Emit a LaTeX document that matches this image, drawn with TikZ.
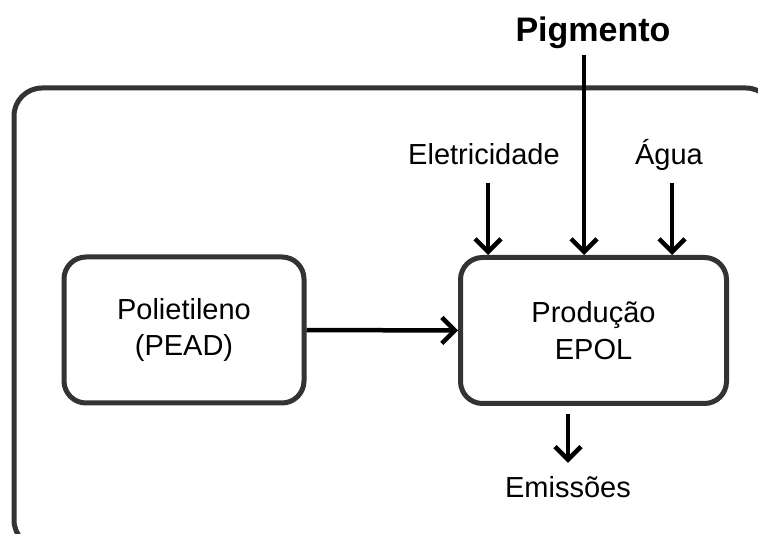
\documentclass[tikz,border=0pt]{standalone}
\usepackage{fontspec}
\setmainfont{Liberation Sans}
\usetikzlibrary{arrows.meta}
\definecolor{boxgray}{HTML}{333333}
\begin{document}
\begin{tikzpicture}
[x=1pt, y=-1pt,
 box/.style={draw=boxgray, line width=5pt, rounded corners=22pt, inner sep=0pt, align=center,
   font=\fontsize{29}{36.5}\selectfont},
 tag/.style={inner sep=0pt, text height=21pt, text depth=0pt, font=\fontsize{29}{36}\selectfont},
 flow/.style={-{Straight Barb[length=13pt,width=26pt]}, line width=4.5pt, black}]
\useasboundingbox (0,0) rectangle (758,534);
\clip (0,0) rectangle (758,534);
\draw[boxgray, line width=5pt, rounded corners=28pt] (14,88) rectangle (774,548);
\node[box, minimum width=240pt, minimum height=146pt] (Poli) at (184,330) {Polietileno\\(PEAD)};
\node[box, minimum width=266pt, minimum height=146pt] (Prod) at (593.5,330.5) {Produção\\EPOL};
\node[tag, anchor=base, font=\fontsize{34}{40}\selectfont\bfseries] (Pig) at (593,42) {Pigmento};
\node[tag, anchor=base] (Ele) at (484,165) {Eletricidade};
\node[tag, anchor=base] (Agua) at (669,165) {Água};
\node[tag, anchor=base] (Emi) at (568,497) {Emissões};
\draw[flow] (Poli.east) -- (Prod.west);
\draw[flow, shorten <=13pt] ([xshift=-9pt]Pig.south) -- ([xshift=-9pt]Pig.south |- Prod.north);
\draw[flow, shorten <=18pt] ([xshift=4pt]Ele.south) -- ([xshift=4pt]Ele.south |- Prod.north);
\draw[flow, shorten <=18pt] ([xshift=3pt]Agua.south) -- ([xshift=3pt]Agua.south |- Prod.north);
\draw[flow, shorten <=8pt, shorten >=13pt] (Prod.south -| Emi.north) -- (Emi.north);
\end{tikzpicture}
\end{document}
